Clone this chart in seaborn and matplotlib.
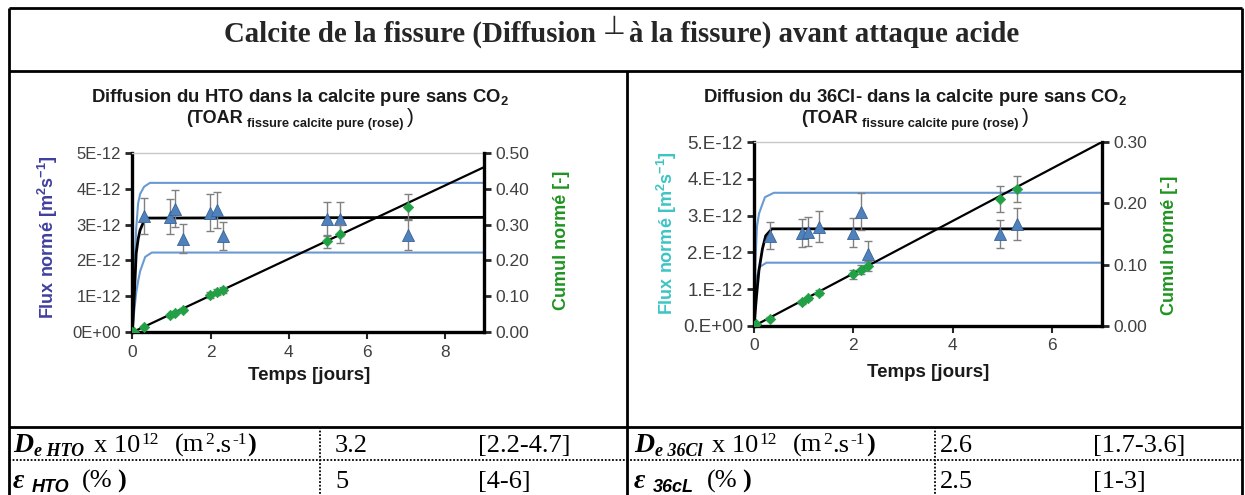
import matplotlib
matplotlib.use('Agg')
import matplotlib.pyplot as plt
import seaborn as sns
import numpy as np

# ---- HTO panel (flux in 1E-12 m2/s, time in days) ----
hto_t = [0.31, 0.96, 1.09, 1.30, 1.99, 2.17, 2.31, 4.99, 5.31, 7.04]
hto_flux = [3.24, 3.22, 3.44, 2.61, 3.33, 3.40, 2.68, 3.15, 3.15, 2.72]
hto_flux_err = [0.50, 0.49, 0.52, 0.40, 0.51, 0.51, 0.40, 0.47, 0.48, 0.42]
hto_cum_t = [0.0, 0.04, 0.31, 0.96, 1.09, 1.30, 1.99, 2.17, 2.31, 4.99, 5.31, 7.04]
hto_cum = [0.0, 0.001, 0.014, 0.047, 0.055, 0.063, 0.103, 0.112, 0.118, 0.254, 0.273, 0.350]
hto_cum_err = [0, 0, 0.003, 0.004, 0.004, 0.005, 0.008, 0.009, 0.009, 0.018, 0.025, 0.035]
hto_up_t = [0, 0.05, 0.1, 0.15, 0.2, 0.3, 0.45, 9.0]
hto_up = [0, 1.6, 2.9, 3.6, 3.85, 4.05, 4.16, 4.16]
hto_mid_t = [0, 0.05, 0.1, 0.15, 0.2, 0.3, 0.4, 9.0]
hto_mid = [0, 1.0, 2.2, 2.6, 2.85, 3.1, 3.18, 3.2]
hto_low_t = [0, 0.05, 0.1, 0.155, 0.2, 0.33, 0.5, 9.0]
hto_low = [0, 0.6, 1.1, 1.46, 1.7, 2.1, 2.22, 2.22]
hto_line_t = [0.0, 9.0]
hto_line = [0.0, 0.46]

# ---- 36Cl panel ----
cl_t = [0.32, 0.97, 1.09, 1.30, 2.00, 2.16, 2.29, 4.95, 5.29]
cl_flux = [2.45, 2.54, 2.56, 2.70, 2.54, 3.11, 1.97, 2.50, 2.77]
cl_flux_err = [0.37, 0.38, 0.39, 0.42, 0.39, 0.50, 0.33, 0.38, 0.43]
cl_cum_t = [0.0, 0.05, 0.32, 0.97, 1.09, 1.30, 2.00, 2.16, 2.29, 4.95, 5.29]
cl_cum = [0.0, 0.003, 0.012, 0.039, 0.045, 0.054, 0.084, 0.092, 0.098, 0.207, 0.223]
cl_cum_err = [0, 0, 0.002, 0.003, 0.003, 0.004, 0.008, 0.008, 0.008, 0.021, 0.021]
cl_up_t = [0, 0.03, 0.06, 0.1, 0.15, 0.22, 0.4, 7.0]
cl_up = [0, 1.8, 2.7, 3.05, 3.24, 3.5, 3.62, 3.62]
cl_mid_t = [0, 0.05, 0.1, 0.17, 0.235, 0.36, 7.0]
cl_mid = [0, 0.8, 1.52, 2.1, 2.45, 2.64, 2.64]
cl_low_t = [0, 0.03, 0.06, 0.12, 0.25, 7.0]
cl_low = [0, 0.9, 1.35, 1.61, 1.72, 1.72]
cl_line_t = [0.0, 7.0]
cl_line = [0.0, 0.30]

# ---- tick labels ----
hto_ylabels = ['0E+00', '1E-12', '2E-12', '3E-12', '4E-12', '5E-12']
cl_ylabels = ['0.E+00', '1.E-12', '2.E-12', '3.E-12', '4.E-12', '5.E-12']
hto_cum_labels = ['0.00', '0.10', '0.20', '0.30', '0.40', '0.50']
cl_cum_labels = ['0.00', '0.10', '0.20', '0.30']

# ---- table values ----
hto_table = [('3.2', '[2.2-4.7]'), ('5', '[4-6]')]
cl_table = [('2.6', '[1.7-3.6]'), ('2.5', '[1-3]')]

sns.set_theme(style='white')
plt.rcParams['font.family'] = ['Liberation Sans', 'DejaVu Sans']
plt.rcParams['mathtext.default'] = 'regular'

W, H = 1245, 495
fig = plt.figure(figsize=(W / 100, H / 100), dpi=100)
bg = fig.add_axes([0, 0, 1, 1])
bg.set_xlim(0, W)
bg.set_ylim(H, 0)
bg.axis('off')
renderer = fig.canvas.get_renderer()

BLUE_TRI = '#4F81BD'
BLUE_LINE = '#6A9AD4'
GREEN = '#22A045'
GREY = '#808080'
TICK = '#404040'


def rich(x, y, parts, ha='left'):
    # parts: (text, dy, gap_after, kwargs)
    placed = []
    cur = 0
    for s, dy, gap, kw in parts:
        t = bg.text(0, y + dy, s, va='baseline', ha='left', **kw)
        w = t.get_window_extent(renderer).width
        placed.append((t, cur))
        cur += w + gap
    x0 = x - cur / 2 if ha == 'center' else x
    for t, off in placed:
        t.set_x(x0 + off)
    return cur


def panel(rect, xmax, ticks_x, ylabels, cum_max, cum_labels, flux_color,
          t, flux, ferr, ct, cum, cerr, curves, lt, lv, lab_pos, ylsize):
    ax = fig.add_axes(rect)
    for ct_, cv_, col, lw in curves:
        sns.lineplot(x=ct_, y=cv_, ax=ax, color=col, lw=lw, estimator=None,
                     sort=False, zorder=2)
    ax.errorbar(t, flux, yerr=ferr, fmt='none', ecolor=GREY, elinewidth=1,
                capsize=3, capthick=1, zorder=3)
    sns.scatterplot(x=t, y=flux, ax=ax, marker='^', s=75, color=BLUE_TRI,
                    edgecolor='#3A6396', linewidth=0.6, zorder=4)
    ax.set_xlim(0, xmax)
    ax.set_ylim(0, 5)
    ax.set_xticks(ticks_x)
    ax.set_xticklabels([str(v) for v in ticks_x])
    ax.set_yticks(range(6))
    ax.set_yticklabels(ylabels)
    ax.set_xlabel('')
    ax.set_ylabel('')

    ax2 = ax.twinx()
    sns.lineplot(x=lt, y=lv, ax=ax2, color='black', lw=1.6, estimator=None,
                 zorder=2)
    ax2.errorbar(ct, cum, yerr=cerr, fmt='none', ecolor=GREY, elinewidth=1,
                 capsize=3, capthick=1, zorder=3)
    sns.scatterplot(x=ct, y=cum, ax=ax2, marker='D', s=28, color=GREEN,
                    edgecolor=GREEN, linewidth=0.5, zorder=4)
    ax2.set_ylim(0, cum_max)
    ax2.set_yticks(np.linspace(0, cum_max, len(cum_labels)))
    ax2.set_yticklabels(cum_labels)
    ax2.set_ylabel('')
    ax2.set_xlim(0, xmax)

    for a in (ax, ax2):
        for s in a.spines.values():
            s.set_visible(False)
    ax.spines['left'].set_visible(True)
    ax.spines['bottom'].set_visible(True)
    ax.spines['top'].set_visible(True)
    ax2.spines['right'].set_visible(True)
    for s in ('left', 'bottom'):
        ax.spines[s].set_color('black')
        ax.spines[s].set_linewidth(2.4)
    ax.spines['top'].set_color('#C8C8C8')
    ax.spines['top'].set_linewidth(1)
    ax2.spines['right'].set_color('black')
    ax2.spines['right'].set_linewidth(2.4)

    ax.tick_params(axis='y', left=True, direction='out', length=5, width=2,
                   labelsize=ylsize, labelcolor=TICK, pad=3)
    ax.tick_params(axis='x', bottom=True, direction='out', length=5, width=1.5,
                   labelsize=12.5, labelcolor=TICK, pad=4)
    ax2.tick_params(axis='y', right=True, direction='out', length=5, width=2,
                    labelsize=12.5, labelcolor=TICK, pad=3)

    (lx, ly), (rx, ry), (bx, by) = lab_pos
    ax.text(lx, ly, 'Flux normé [m$^2$s$^{-1}$]', transform=ax.transAxes,
            rotation=90, ha='center', va='center', fontsize=13,
            fontweight='bold', color=flux_color)
    ax.text(rx, ry, 'Cumul normé [-]', transform=ax.transAxes, rotation=90,
            ha='center', va='center', fontsize=13, fontweight='bold',
            color='#1E9420')
    ax.text(bx, by, 'Temps [jours]', transform=ax.transAxes, ha='center',
            va='center', fontsize=13.5, fontweight='bold', color='#1A1A1A')
    return ax


panel([132.3 / W, 1 - 332.3 / H, 351.9 / W, 179.6 / H], 9, [0, 2, 4, 6, 8],
      hto_ylabels, 0.5, hto_cum_labels, '#3F3F9E',
      hto_t, hto_flux, hto_flux_err, hto_cum_t, hto_cum, hto_cum_err,
      [(hto_up_t, hto_up, BLUE_LINE, 1.5), (hto_low_t, hto_low, BLUE_LINE, 1.5),
       (hto_mid_t, hto_mid, 'black', 2.0)],
      hto_line_t, hto_line,
      [(-0.24, 0.53), (1.221, 0.514), (0.502, -0.238)], 12)

panel([754 / W, 1 - 326 / H, 348 / W, 184 / H], 7, [0, 2, 4, 6],
      cl_ylabels, 0.3, cl_cum_labels, '#3CC4C4',
      cl_t, cl_flux, cl_flux_err, cl_cum_t, cl_cum, cl_cum_err,
      [(cl_up_t, cl_up, BLUE_LINE, 1.5), (cl_low_t, cl_low, BLUE_LINE, 1.5),
       (cl_mid_t, cl_mid, 'black', 2.0)],
      cl_line_t, cl_line,
      [(-0.25, 0.505), (1.195, 0.44), (0.5, -0.255)], 13.5)

# ---- chart titles ----
tb = dict(fontweight='bold', color='#1A1A1A')
for cx, name in ((300, 'HTO'), (915, '36Cl-')):
    rich(cx, 102, [('Diffusion du %s dans la calcite pure sans CO$_2$' % name,
                    0, 0, dict(fontsize=13.3, **tb))], ha='center')
    rich(cx, 123, [('(TOAR', 0, 4, dict(fontsize=13, **tb)),
                   ('fissure calcite pure (rose)', 4, 3, dict(fontsize=9.3, **tb)),
                   (')', 0, 0, dict(fontsize=15, fontweight='normal', color='#1A1A1A'))],
         ha='center')

# ---- main title ----
serif = ['Liberation Serif', 'DejaVu Serif']
ts = 20.8
rich(622, 42, [('Calcite de la fissure (Diffusion', 0, 6,
                dict(fontsize=ts, fontweight='bold', family=serif)),
               ('⊥', -8, 4, dict(fontsize=ts - 2, family=['DejaVu Sans'])),
               ('à la fissure) avant attaque acide', 0, 0,
                dict(fontsize=ts, fontweight='bold', family=serif))],
     ha='center')

# ---- table lines ----
lk = dict(color='black', lw=2, solid_capstyle='butt')
bg.plot([9, 1242], [8, 8], **lk)
bg.plot([9, 9], [8, 495], **lk)
bg.plot([1242, 1242], [8, 495], **lk)
bg.plot([9, 1242], [71, 71], **lk)
bg.plot([627, 627], [71, 495], **lk)
bg.plot([9, 1242], [427, 427], **lk)
dk = dict(color='black', lw=1.3, ls=(0, (1, 1)))
bg.plot([9, 1242], [460, 460], **dk)
bg.plot([320, 320], [427, 495], **dk)
bg.plot([935, 935], [427, 495], **dk)

# ---- table text ----
fs = 19
bi = dict(fontsize=fs + 1, fontweight='bold', style='italic', family=serif, color='black')
rg = dict(fontsize=fs, family=serif, color='black')
bd = dict(fontsize=fs, fontweight='bold', family=serif, color='black')
sub_bi = dict(fontsize=13, fontweight='bold', style='italic', family=serif, color='black')
sub_rg = dict(fontsize=12.5, family=serif, color='black')
sub_sans = dict(fontsize=13, fontweight='bold', style='italic',
                family=['Liberation Sans', 'DejaVu Sans'], color='black')

for x0, ion, eps_ion, vals, xv, xr in ((13, 'HTO', 'HTO', hto_table, 335, 478),
                                       (634, '36Cl', '36cL', cl_table, 940, 1093)):
    rich(x0, 452, [('D', 0, 1, bi), ('e ' + ion, 4, 10, sub_bi),
                   ('x 10', 0, 1, rg), ('12', -8, 16, sub_rg),
                   ('(m', 0, 1, rg), ('2', -8, 0, sub_rg), ('.s', 0, 1, rg),
                   ('-1', -8, 1, sub_rg), (')', 0, 0, bd)])
    rich(x0, 488, [('ε', 0, 7, bi), (eps_ion, 4, 13, sub_sans),
                   ('(%', 0, 5, rg), (')', 0, 0, bd)])
    for (v, r), yy in zip(vals, (452, 488)):
        bg.text(xv, yy, v, va='baseline', ha='left', **rg)
        bg.text(xr, yy, r, va='baseline', ha='left', **rg)

fig.savefig('out.png', dpi=100)
